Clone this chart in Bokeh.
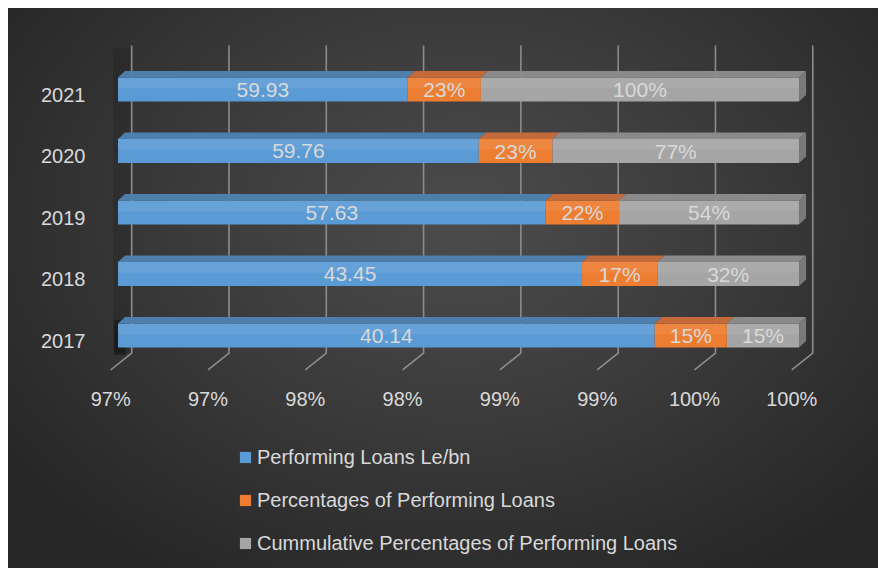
from bokeh.plotting import figure
from bokeh.layouts import column
from bokeh.models import Range1d, LinearAxis, FixedTicker, Legend, LegendItem, ColumnDataSource
from bokeh.core.properties import value
from bokeh.embed import file_html
from bokeh.resources import INLINE

# ---- data ----
years = ["2017", "2018", "2019", "2020", "2021"]
performing_loans = [40.14, 43.45, 57.63, 59.76, 59.93]          # Le/bn
pct_performing = [15, 17, 22, 23, 23]                           # %
cum_pct_performing = [15, 32, 54, 77, 100]                      # %
x_min, x_max = 96.5, 100.0
x_ticks = [96.5, 97.0, 97.5, 98.0, 98.5, 99.0, 99.5, 100.0]
x_tick_labels = ["97%", "97%", "98%", "98%", "99%", "99%", "100%", "100%"]
series_names = ["Performing Loans Le/bn", "Percentages of Performing Loans",
                "Cummulative Percentages of Performing Loans"]
colors_front = ["#5b9bd5", "#ed7d31", "#a5a5a5"]
colors_top = ["#4e7eab", "#c3693a", "#8a8a8a"]

FONT = "Liberation Sans"
TXT = "#d9d9d9"

# 100% stacked shares (axis starts at x_min, so bars are clipped there)
b0, b1, b2, b3 = [], [], [], []
for a, p_, c in zip(performing_loans, pct_performing, cum_pct_performing):
    tot = a + p_ / 100 + c / 100
    b0.append(max(0.0, x_min))
    b1.append(a / tot * 100)
    b2.append((a + p_ / 100) / tot * 100)
    b3.append(100.0)

cats = list(range(len(years)))
OFF = 0.081      # 3D depth offset of bar front
HALF = 0.195
DY = 0.106
DX = 0.036

p = figure(width=870, height=417, output_backend="svg", toolbar_location=None,
           x_range=Range1d(96.41, 100.213), y_range=Range1d(-0.569, 5.041),
           x_axis_location=None, y_axis_location=None,
           min_border_left=92, min_border_right=38, min_border_top=22, min_border_bottom=50)
p.extra_x_ranges = {"floor": Range1d(96.41 + 0.0375, 100.213 + 0.0375)}
p.background_fill_alpha = 0
p.border_fill_alpha = 0
p.outline_line_alpha = 0
p.xgrid.visible = False
p.ygrid.visible = False

# gridlines (back wall + floor diagonal)
gx, gy = [], []
for t in x_ticks:
    gx.append([t + 0.0704, t + 0.0704, t - 0.0375])
    gy.append([4.797, -0.207, -0.476])
p.multi_line(gx, gy, line_color="#8c8c8c", line_width=1.6)

# left wall shadow
p.quad(left=[96.475], right=[96.56], bottom=[-0.2], top=[4.75], fill_color="black",
       fill_alpha=0.12, line_alpha=0)
p.quad(left=[96.48], right=[96.54], bottom=[c + OFF - HALF - 0.12 for c in cats],
       top=[c + OFF + HALF + 0.06 for c in cats], fill_color="black", fill_alpha=0.35, line_alpha=0)

bounds = [(b0, b1), (b1, b2), (b2, b3)]
for k, (lo, hi) in enumerate(bounds):
    yc = [c + OFF for c in cats]
    src = ColumnDataSource(dict(left=lo, right=hi, bottom=[y - HALF for y in yc],
                                top=[y + HALF for y in yc]))
    p.quad(left="left", right="right", bottom="bottom", top="top", source=src,
           fill_color=colors_front[k], line_alpha=0)
    # lighter upper band
    p.quad(left=lo, right=hi, bottom=[y + 0.02 for y in yc], top=[y + HALF for y in yc],
           fill_color="white", fill_alpha=0.07, line_alpha=0)
    # top faces
    xs, ys = [], []
    for l, h, y in zip(lo, hi, yc):
        xs.append([l, h, h + DX, l + DX])
        ys.append([y + HALF, y + HALF, y + HALF + DY, y + HALF + DY])
    p.patches(xs, ys, fill_color=colors_top[k], line_alpha=0)

# right end faces
xs, ys = [], []
for h, c in zip(b3, cats):
    y = c + OFF
    xs.append([h, h + DX, h + DX, h])
    ys.append([y - HALF, y - HALF + DY, y + HALF + DY, y + HALF])
p.patches(xs, ys, fill_color="#7a7a7a", line_alpha=0)

# data labels
lab_x, lab_y, lab_t = [], [], []
for i, c in enumerate(cats):
    y = c + OFF
    lab_x += [(b0[i] + b1[i]) / 2, (b1[i] + b2[i]) / 2, (b2[i] + b3[i]) / 2]
    lab_y += [y, y, y]
    lab_t += [f"{performing_loans[i]:.2f}", f"{pct_performing[i]}%", f"{cum_pct_performing[i]}%"]
p.text(x=lab_x, y=lab_y, text=lab_t, text_align="center", text_baseline="middle",
       text_font=value(FONT), text_font_size="21px", text_color=TXT)

# axes
xaxis = LinearAxis(x_range_name="floor", ticker=FixedTicker(ticks=x_ticks),
                   major_label_overrides={t: s for t, s in zip(x_ticks, x_tick_labels)})
xaxis.axis_line_alpha = 0
xaxis.major_tick_line_alpha = 0
xaxis.minor_tick_line_alpha = 0
xaxis.major_tick_out = 0
xaxis.major_label_standoff = 12
xaxis.major_label_text_font = FONT
xaxis.major_label_text_font_size = "20px"
xaxis.major_label_text_color = TXT
p.add_layout(xaxis, "below")

yaxis = LinearAxis(ticker=FixedTicker(ticks=cats),
                   major_label_overrides={c: y for c, y in zip(cats, years)})
yaxis.axis_line_alpha = 0
yaxis.major_tick_line_alpha = 0
yaxis.minor_tick_line_alpha = 0
yaxis.major_tick_out = 0
yaxis.major_label_standoff = 15
yaxis.major_label_text_font = FONT
yaxis.major_label_text_font_size = "20px"
yaxis.major_label_text_color = TXT
p.add_layout(yaxis, "left")

# legend panel (below the chart); its swatches sit outside the visible range
p2 = figure(width=870, height=143, output_backend="svg", toolbar_location=None,
            x_axis_location=None, y_axis_location=None, min_border=0,
            x_range=Range1d(0, 1), y_range=Range1d(0, 1))
p2.background_fill_alpha = 0
p2.border_fill_alpha = 0
p2.outline_line_alpha = 0
p2.xgrid.visible = False
p2.ygrid.visible = False
leg_r = [p2.quad(left=[5], right=[6], bottom=[5], top=[6], fill_color=col, line_alpha=0)
         for col in colors_front]
legend = Legend(items=[LegendItem(label=n, renderers=[r]) for n, r in zip(series_names, leg_r)],
                location=(136, 11), orientation="vertical")
legend.background_fill_alpha = 0
legend.border_line_alpha = 0
legend.label_text_font = FONT
legend.label_text_font_size = "20px"
legend.label_text_color = TXT
legend.glyph_width = 14
legend.glyph_height = 14
legend.label_height = 24
legend.spacing = 19
legend.padding = 2
legend.margin = 0
legend.label_standoff = 5
p2.add_layout(legend)

layout = column(p, p2, spacing=0)
layout.margin = (8, 0, 0, 8)
layout.styles = {"background": "radial-gradient(ellipse 65% 75% at 52% 38%, #4c4c4c 0%, #3c3c3c 45%, #262626 100%)"}

open("out.html", "w").write(file_html(layout, INLINE))
